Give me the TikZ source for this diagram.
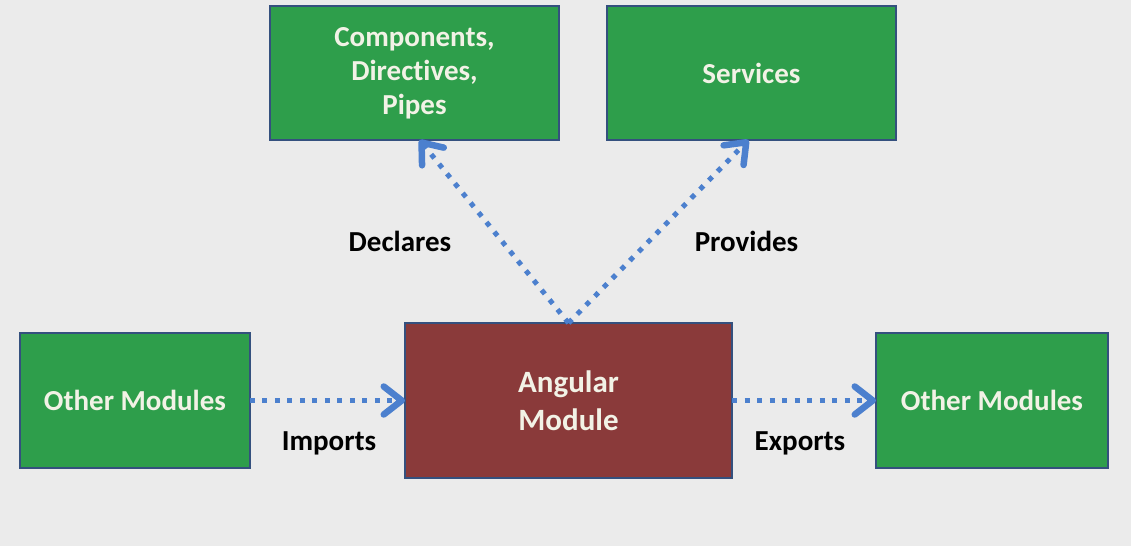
\documentclass[tikz,border=0pt]{standalone}
\usepackage{fontspec}
\setmainfont{Carlito}[RawFeature={-liga;-clig;-rlig}]
\usepackage{tikz}
\usetikzlibrary{arrows.meta,positioning}
\definecolor{boxgreen}{HTML}{2E9E4B}
\definecolor{boxred}{HTML}{8A3A3A}
\definecolor{boxedge}{HTML}{34507E}
\definecolor{linkblue}{HTML}{4C80CE}
\definecolor{paper}{HTML}{EBEBEB}
\definecolor{boxtext}{HTML}{F2F2E6}

\begin{document}
\begin{tikzpicture}[
    font=\bfseries\fontsize{29}{34}\selectfont,
    part/.style={
		rectangle,
		draw=boxedge,
		line width=2.5pt,
		fill=boxgreen,
		text=boxtext,
		text centered,
		inner sep=0pt,
		outer sep=0pt,
		align=center
	},
	link/.style={
		draw=linkblue,
		line width=5pt,
		dash pattern=on 5pt off 7.5pt,
		-{Straight Barb[length=18pt,width=28pt,line width=6.5pt,round]}
	},
	verb/.style={
		text=black
	}
  ]
    % the module in the middle, everything else around it
  \useasboundingbox[fill=paper] (-568.5pt,-145.5pt) rectangle (562.5pt,400.5pt);

  \node [part, fill=boxred, minimum width=327pt, minimum height=155pt,
         font=\bfseries\fontsize{31}{38}\selectfont] (angular) at (0,0)
 {Angular\\Module};

  \node [part, minimum width=289pt, minimum height=134pt,
         above=183pt of angular, xshift=-154pt] (decls)
 {Components,\\Directives,\\Pipes};

  \node [part, minimum width=289pt, minimum height=134pt,
         above=183pt of angular, xshift=183pt] (services)
 {Services};

  \node [part, minimum width=230pt, minimum height=135pt,
         left=155pt of angular] (imported)
 {Other Modules};

  \node [part, minimum width=232pt, minimum height=135pt,
         right=144pt of angular] (exported)
 {Other Modules};

 \draw [link] (angular.north) -- node [verb, midway, xshift=-94pt, yshift=-9.5pt] {Declares} ([xshift=5pt]decls.south);
 \draw [link] (angular.north) -- node [verb, midway, xshift=88pt, yshift=-9.5pt] {Provides} ([xshift=-3pt]services.south);
 \draw [link] (imported) -- node [verb, midway, xshift=1.5pt, yshift=-43pt] {Imports} (angular);
 \draw [link] (angular) -- node [verb, midway, xshift=-4pt, yshift=-43pt] {Exports} (exported);

\end{tikzpicture}
\end{document}
